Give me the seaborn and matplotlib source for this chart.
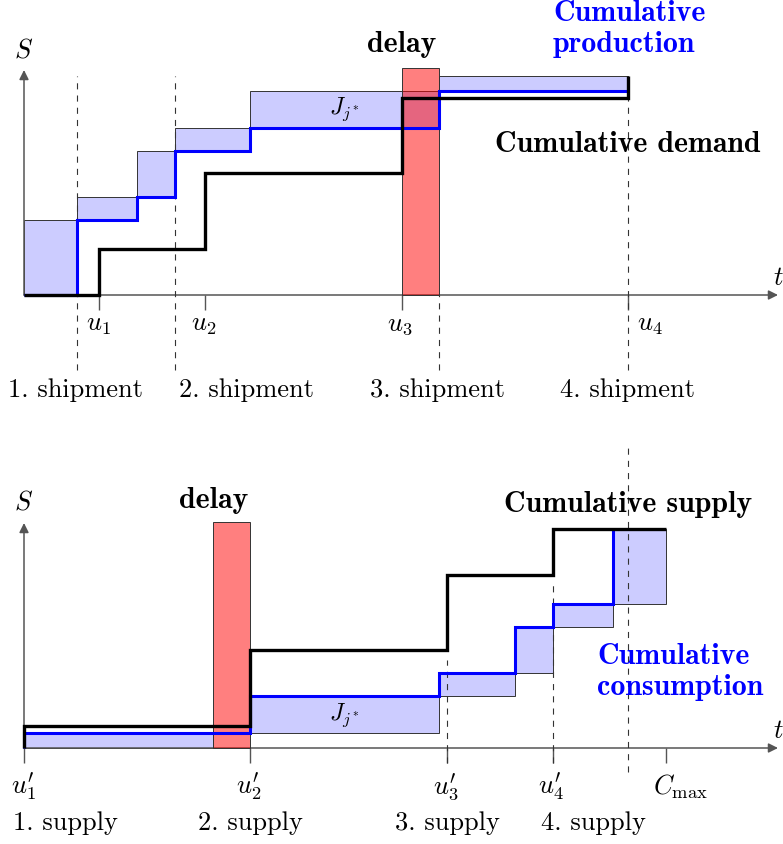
import numpy as np
import seaborn as sns
import matplotlib.pyplot as plt

# ---- top panel: production vs demand (t and S in chart units) ----
prod_times = [0, 5.3, 11.3, 15.1, 22.6, 41.5]
prod_levels = [0, 7.5, 9.8, 14.4, 16.7, 20.4]
prod_end = 60.4
demand_times = [0, 7.5, 18.1, 37.8, 60.4]
demand_levels = [0, 4.6, 12.2, 19.7, 21.9]
top_delay = [37.8, 41.5, 22.7]          # start, end, height
shipment_times = [5.3, 15.1, 41.5, 60.4]
shipment_tops = [21.9, 21.9, 0, 21.9]
shipment_labels = ['1. shipment', '2. shipment', '3. shipment', '4. shipment']
shipment_label_x = [5.2, 22.3, 41.4, 60.4]
u_ticks = [7.5, 18.1, 37.8, 60.4]
u_labels = [r'$u_1$', r'$u_2$', r'$u_3$', r'$u_4$']
u_label_x = [7.4, 18.0, 37.6, 62.6]

# ---- bottom panel: supply vs consumption ----
supply_times = [0, 22.6, 42.3, 52.9]
supply_levels = [2.2, 9.8, 17.3, 21.9]
c_max = 64.2
cons_times = [0, 22.6, 41.5, 49.1, 52.9, 58.9]
cons_levels = [1.5, 5.2, 7.5, 12.1, 14.4, 21.9]
cons_rect_right = [18.9, 41.5, 49.1, 52.9, 58.9, 64.2]
bot_delay = [18.9, 22.6, 22.6]
supply_dash_x = [42.3, 52.9, 60.4]
supply_dash_top = [8.8, 16.8, 30.1]
supply_dash_bottom = [-1.5, -1.5, -2.4]
supply_labels = ['1. supply', '2. supply', '3. supply', '4. supply']
supply_label_x = [4.1, 22.6, 42.3, 56.9]
up_ticks = [0, 22.6, 42.3, 52.9, 64.2]
up_labels = [r"$u^{\prime}_1$", r"$u^{\prime}_2$", r"$u^{\prime}_3$", r"$u^{\prime}_4$",
             r'$C_{\max}$']
up_label_x = [-0.1, 22.5, 42.2, 52.7, 65.6]

sns.set_theme(style='white')
plt.rcParams['mathtext.fontset'] = 'cm'
plt.rcParams['font.family'] = ['cmr10', 'DejaVu Sans']
plt.rcParams['text.color'] = 'black'

BLUE_FILL = '#ccccff'
EDGE = '#333333'
AXIS = '#555555'
FS = 19
FSB = 21.5

fig = plt.figure(figsize=(7.83, 8.44), dpi=100)
ax_top = fig.add_axes([0, 1 - 420 / 844, 1, 420 / 844])
ax_bot = fig.add_axes([0, 0, 1, 424 / 844])
ax_top.set_xlim(-2.4, 75.9)
ax_top.set_ylim(-12.5, 29.5)
ax_bot.set_xlim(-2.4, 75.9)
ax_bot.set_ylim(-9.6, 32.8)


def draw_axes(ax):
    ax.set_axis_off()
    ax.annotate('', xy=(75.4, 0), xytext=(0, 0),
                arrowprops=dict(arrowstyle='-|>', color=AXIS, lw=1.1,
                                mutation_scale=14, shrinkA=0, shrinkB=0), zorder=2)
    ax.annotate('', xy=(0, 22.5), xytext=(0, 0),
                arrowprops=dict(arrowstyle='-|>', color=AXIS, lw=1.1,
                                mutation_scale=14, shrinkA=0, shrinkB=0), zorder=2)
    ax.text(0, 24.5, r'$S$', fontsize=FS, ha='center', va='center')
    ax.text(75.4, 1.7, r'$t$', fontsize=FS, ha='center', va='center')


def step_line(ax, xs, ys, color, lw):
    sns.lineplot(x=xs, y=ys, ax=ax, color=color, lw=lw, drawstyle='steps-post',
                 estimator=None, sort=False, zorder=5,
                 solid_joinstyle='miter', solid_capstyle='butt')


# ---------------- top ----------------
ax = ax_top
draw_axes(ax)
rect_left = prod_times
rect_right = prod_times[1:] + [prod_end]
rect_bottom = prod_levels
rect_top = prod_levels[1:] + [demand_levels[-1]]
ax.bar(rect_left, np.subtract(rect_top, rect_bottom), width=np.subtract(rect_right, rect_left),
       bottom=rect_bottom, align='edge', color=BLUE_FILL, edgecolor=EDGE, lw=0.7, zorder=1)
ax.bar(top_delay[0], top_delay[2], width=top_delay[1] - top_delay[0], align='edge',
       color=(1, 0, 0, 0.5), edgecolor=EDGE, lw=0.7, zorder=3)
ax.vlines(shipment_times, -7.5, shipment_tops, colors=EDGE, lw=0.8,
          linestyles=(0, (5.5, 5.5)), zorder=4)
ax.vlines(u_ticks, -1.5, 0, colors=AXIS, lw=1.0, zorder=2)
step_line(ax, prod_times + [prod_end], prod_levels + [prod_levels[-1]], 'blue', 2.2)
step_line(ax, demand_times, demand_levels, 'black', 2.4)
for x, lab in zip(u_label_x, u_labels):
    ax.text(x, -3.0, lab, fontsize=FS, ha='center', va='center')
for x, lab in zip(shipment_label_x, shipment_labels):
    ax.text(x, -9.5, lab, fontsize=FS, ha='center', va='center')
ax.text(32.0, 18.6, r'$J_{j^*}$', fontsize=FS - 2, ha='center', va='center', zorder=6)
ax.text(37.8, 25.0, 'delay', fontsize=FSB, family='cmb10', ha='center', va='center')
ax.text(52.9, 26.6, 'Cumulative\nproduction', fontsize=FSB, family='cmb10', color='blue',
        ha='left', va='center', linespacing=1.2)
ax.text(60.4, 15.0, 'Cumulative demand', fontsize=FSB, family='cmb10',
        ha='center', va='center', zorder=6)

# ---------------- bottom ----------------
ax = ax_bot
draw_axes(ax)
c_bottom = [0] + cons_levels[:-1]
ax.bar(cons_times, np.subtract(cons_levels, c_bottom),
       width=np.subtract(cons_rect_right, cons_times), bottom=c_bottom, align='edge',
       color=BLUE_FILL, edgecolor=EDGE, lw=0.7, zorder=1)
ax.bar(bot_delay[0], bot_delay[2], width=bot_delay[1] - bot_delay[0], align='edge',
       color=(1, 0, 0, 0.5), edgecolor=EDGE, lw=0.7, zorder=3)
ax.vlines(supply_dash_x, supply_dash_bottom, supply_dash_top, colors=EDGE, lw=0.8,
          linestyles=(0, (5.5, 5.5)), zorder=4)
ax.vlines(up_ticks, -1.5, 0, colors=AXIS, lw=1.0, zorder=2)
step_line(ax, [0] + cons_times, [0] + cons_levels, 'blue', 2.2)
step_line(ax, [0] + supply_times + [c_max], [0] + supply_levels + [supply_levels[-1]],
          'black', 2.4)
for x, lab in zip(up_label_x, up_labels):
    ax.text(x, -3.9, lab, fontsize=FS, ha='center', va='center')
for x, lab in zip(supply_label_x, supply_labels):
    ax.text(x, -7.5, lab, fontsize=FS, ha='center', va='center')
ax.text(32.0, 3.3, r'$J_{j^*}$', fontsize=FS - 2, ha='center', va='center', zorder=6)
ax.text(19.0, 24.8, 'delay', fontsize=FSB, family='cmb10', ha='center', va='center')
ax.text(60.4, 24.3, 'Cumulative supply', fontsize=FSB, family='cmb10',
        ha='center', va='center', zorder=6)
ax.text(57.3, 7.6, 'Cumulative\nconsumption', fontsize=FSB, family='cmb10', color='blue',
        ha='left', va='center', linespacing=1.2, zorder=6)

fig.savefig('out.png', dpi=100)
